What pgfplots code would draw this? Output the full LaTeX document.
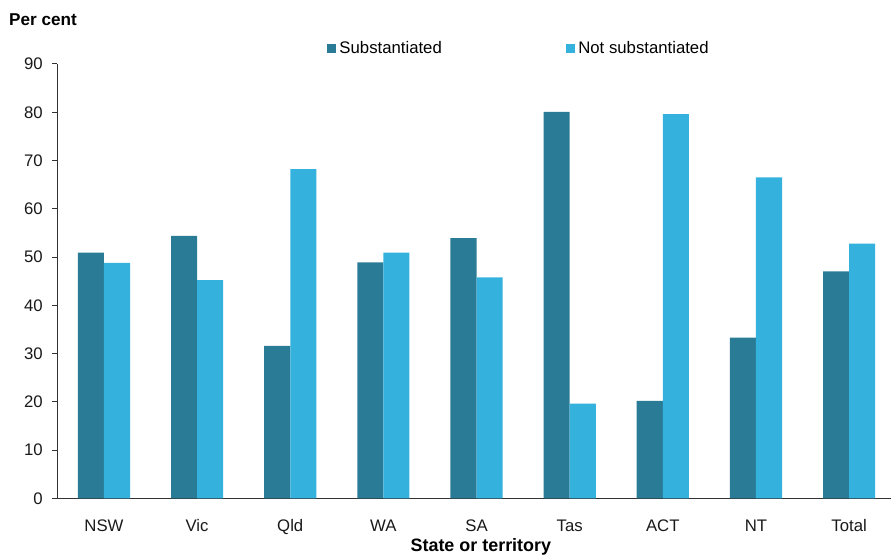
\documentclass[border=0pt]{standalone}
\usepackage{fontspec}
\setmainfont{Liberation Sans}
\usepackage{pgfplots}
\pgfplotsset{compat=1.18}
\definecolor{darkbar}{HTML}{2A7C96}
\definecolor{lightbar}{HTML}{34B2DD}
\definecolor{axisgray}{HTML}{333333}
\begin{document}
\begin{tikzpicture}
\useasboundingbox (-57.4bp,-61.7bp) rectangle (833.6bp,498.3bp);
\begin{axis}[
  scale only axis,
  width=833.6bp, height=434.3bp,
  xmin=-0.5, xmax=8.45,
  ymin=0, ymax=90,
  ybar=0pt, bar width=0.28,
  axis lines*=left,
  axis line style={axisgray, line width=1.2bp, -},
  xtick={0,1,2,3,4,5,6,7,8},
  xticklabels={NSW,Vic,Qld,WA,SA,Tas,ACT,NT,Total},
  ytick={0,10,...,90},
  major x tick style={draw=none},
  major y tick style={axisgray, line width=1bp},
  tick align=outside,
  major tick length=5.5bp,
  /pgf/number format/assume math mode=true,
  tick label style={font=\fontsize{16.8}{19}\selectfont, text=black!90},
  xticklabel style={anchor=base, inner sep=0pt, yshift=-27.7bp},
  yticklabel style={anchor=east, inner sep=0pt, xshift=-9bp},
  legend columns=2,
  legend style={draw=none, fill=none, at={(rel axis cs:0.3234,1.0357)}, anchor=west,
    inner sep=0pt, outer sep=0pt,
    nodes={inner sep=0pt, font=\fontsize{16.8}{19}\selectfont},
    /tikz/every odd column/.style={column sep=3bp},
    /tikz/every even column/.style={column sep=124bp}},
  legend image code/.code={\fill[#1] (0bp,-4.8bp) rectangle (9.5bp,4.8bp);},
  clip=false,
]
\addplot[fill=darkbar, draw=none] coordinates {(0,50.9) (1,54.4) (2,31.6) (3,48.9) (4,53.9) (5,80.1) (6,20.2) (7,33.3) (8,47.0)};
\addlegendentry{Substantiated}
\addplot[fill=lightbar, draw=none] coordinates {(0,48.8) (1,45.2) (2,68.2) (3,50.9) (4,45.8) (5,19.6) (6,79.6) (7,66.5) (8,52.8)};
\addlegendentry{Not substantiated}
\node[anchor=base west, inner sep=0pt, font=\bfseries\fontsize{17.2}{19}\selectfont] at (rel axis cs:-0.0581,1.0897) {Per cent};
\node[anchor=base, inner sep=0pt, font=\bfseries\fontsize{18}{19}\selectfont] at (rel axis cs:0.508,-0.1236) {State or territory};
\end{axis}
\end{tikzpicture}
\end{document}
